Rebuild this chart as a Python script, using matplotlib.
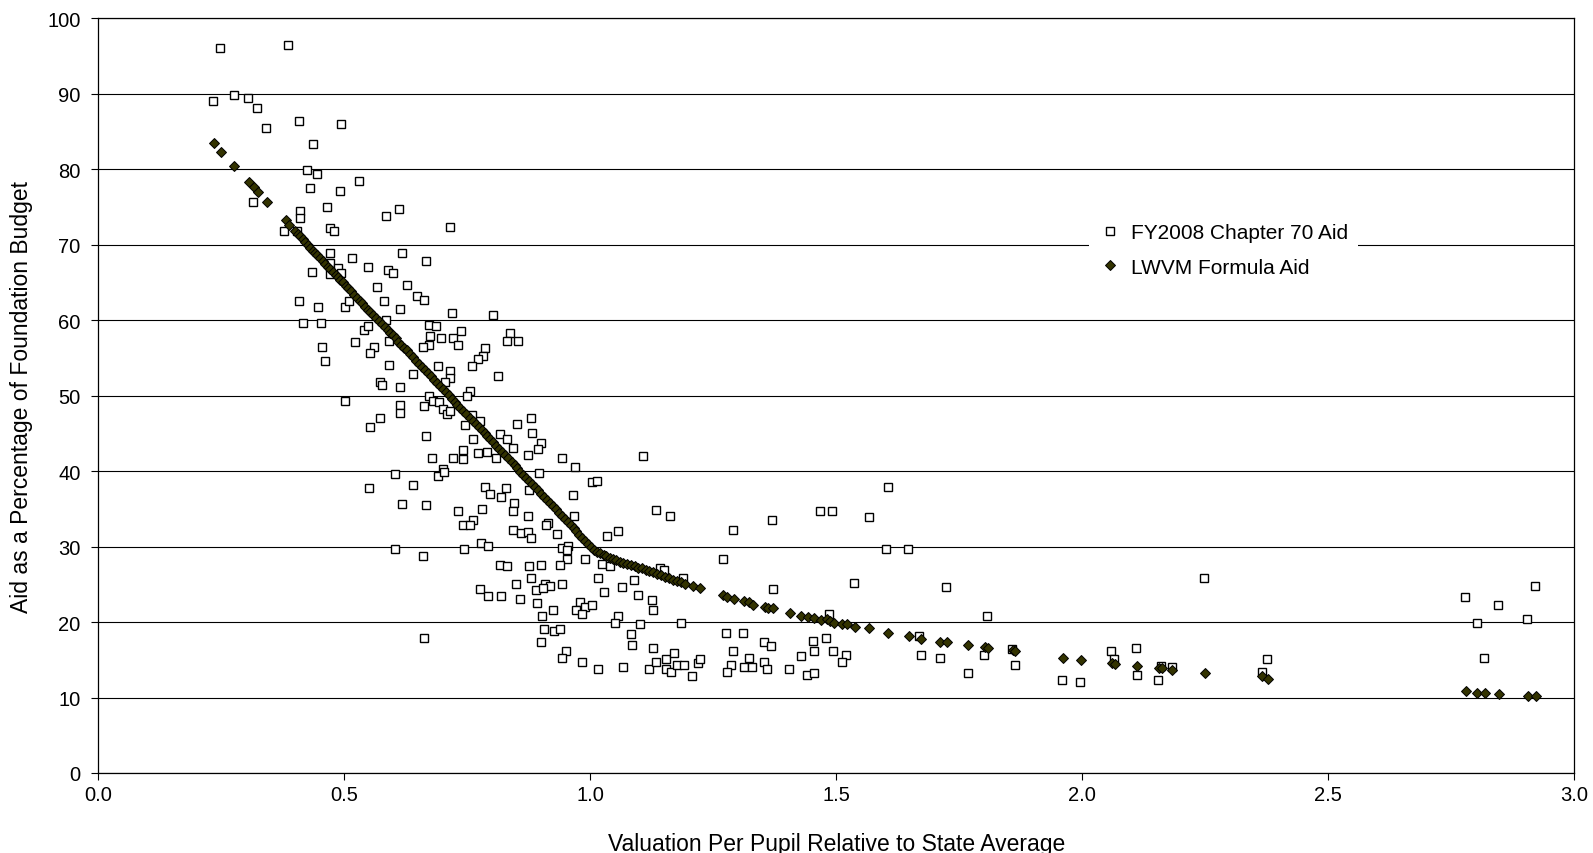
import matplotlib
matplotlib.use('Agg')
from matplotlib import pyplot as plt

plt.rcParams['font.family'] = ['Liberation Sans', 'DejaVu Sans']

# FY2008 Chapter 70 aid (open squares)
ch70_x = [0.248, 0.386, 0.233, 0.276, 0.305, 0.323, 0.341, 0.407, 0.494, 0.437, 0.425, 0.444, 0.530, 0.431,
          0.491, 0.314, 0.465, 0.410, 0.410, 0.377, 0.404, 0.470, 0.479,
          0.585, 0.611, 0.715,
          0.471, 0.515, 0.471, 0.434, 0.488, 0.494, 0.471, 0.408, 0.446, 0.501, 0.509, 0.416, 0.452, 0.540,
          0.522, 0.455, 0.461, 0.501,
          0.618, 0.665, 0.549, 0.588, 0.599, 0.567, 0.627, 0.648, 0.662, 0.581, 0.614, 0.719, 0.803, 0.585,
          0.549, 0.672, 0.686, 0.738, 0.837, 0.831, 0.854, 0.675, 0.696, 0.720, 0.591, 0.672, 0.659, 0.732,
          0.561, 0.552, 0.786, 0.782, 0.771, 0.759, 0.591, 0.690, 0.714, 0.639, 0.714, 0.813, 0.572, 0.576,
          0.614, 0.705, 0.755, 0.750, 0.672, 0.662, 0.681, 0.692, 0.614, 0.614, 0.700, 0.708, 0.715, 0.572,
          0.552, 0.745, 0.759, 0.776, 0.852, 0.879, 0.882, 0.816, 0.830, 0.842, 0.761, 0.666, 0.741, 0.721,
          0.741, 0.771, 0.791, 0.808, 0.873, 0.678, 0.701,
          0.900, 0.894, 0.942, 0.969, 1.107,
          0.602, 0.690, 0.702, 0.551, 0.639, 0.786, 0.797, 0.819, 0.828, 0.876, 0.618, 0.665, 0.732, 0.780,
          0.845, 0.843, 0.873, 0.761, 0.741, 0.756, 0.843, 0.860, 0.873, 0.879, 0.602, 0.743, 0.777, 0.792,
          0.659, 0.816, 0.831, 0.876, 0.879, 0.848, 0.776, 0.792, 0.819, 0.858, 0.890, 0.892, 0.662,
          0.896, 1.004, 1.014, 0.965, 0.967, 1.134, 1.163, 0.915, 0.911, 0.933, 1.035, 1.056, 0.942, 0.955,
          0.953, 0.952, 0.990, 0.900, 0.938, 1.023, 1.041, 1.142, 1.150, 1.188, 1.016, 1.089, 0.942, 0.908,
          0.918, 0.904, 1.065, 1.028, 1.098, 1.125, 1.127, 0.980, 0.989, 1.004, 0.971, 0.984, 0.925, 0.902,
          1.056, 1.050, 1.101, 1.184, 1.083, 1.085, 1.127, 0.906, 0.927, 0.938, 0.900, 0.951, 0.942, 0.984,
          1.016, 1.067, 1.119, 1.134, 1.155, 1.170, 1.154, 1.165, 1.177, 1.191, 1.206, 1.219, 1.224,
          1.291, 1.369, 1.467, 1.491, 1.566, 1.605, 1.269, 1.602, 1.647, 1.371, 1.536, 1.723, 1.806, 1.485,
          1.275, 1.311, 1.291, 1.353, 1.368, 1.323, 1.287, 1.279, 1.313, 1.329, 1.353, 1.359, 1.405, 1.428,
          1.452, 1.455, 1.440, 1.455, 1.479, 1.494, 1.521, 1.512, 1.668, 1.672, 1.711, 1.768, 1.801,
          1.857, 1.864, 2.248, 1.960, 1.996, 2.059, 2.065, 2.109, 2.112, 2.155, 2.160, 2.182, 2.377, 2.365,
          2.779, 2.803, 2.845, 2.921, 2.905, 2.818]
ch70_y = [96.1, 96.5, 89.1, 89.8, 89.4, 88.1, 85.5, 86.4, 86.0, 83.3, 79.9, 79.4, 78.4, 77.5,
          77.1, 75.6, 75.0, 74.4, 73.6, 71.8, 71.8, 72.2, 71.8,
          73.8, 74.7, 72.3,
          68.9, 68.3, 67.6, 66.4, 66.9, 66.3, 66.1, 62.5, 61.8, 61.8, 62.6, 59.6, 59.6, 58.7,
          57.1, 56.4, 54.6, 49.3,
          68.9, 67.9, 67.0, 66.6, 66.3, 64.4, 64.6, 63.2, 62.7, 62.6, 61.5, 60.9, 60.7, 60.0,
          59.2, 59.4, 59.2, 58.6, 58.3, 57.3, 57.3, 57.9, 57.7, 57.7, 57.2, 56.7, 56.5, 56.7,
          56.5, 55.6, 56.3, 55.2, 54.9, 53.9, 54.1, 53.9, 53.2, 52.9, 52.4, 52.6, 51.8, 51.4,
          51.2, 51.8, 50.6, 50.0, 50.0, 48.6, 49.3, 49.1, 48.7, 47.7, 48.2, 47.6, 47.9, 47.0,
          45.9, 46.1, 47.5, 46.6, 46.3, 47.0, 45.1, 44.9, 44.2, 43.1, 44.2, 44.6, 42.8, 41.8,
          41.6, 42.4, 42.5, 41.8, 42.1, 41.8, 40.3,
          43.7, 42.9, 41.7, 40.6, 42.0,
          39.6, 39.4, 39.9, 37.7, 38.1, 37.9, 37.0, 36.6, 37.7, 37.5, 35.6, 35.5, 34.7, 35.0,
          35.8, 34.7, 34.1, 33.5, 32.9, 32.9, 32.2, 31.8, 31.9, 31.2, 29.7, 29.7, 30.5, 30.1,
          28.8, 27.6, 27.4, 27.4, 25.9, 25.1, 24.4, 23.5, 23.5, 23.1, 24.2, 22.5, 17.9,
          39.8, 38.5, 38.7, 36.8, 34.1, 34.9, 34.1, 33.1, 32.9, 31.7, 31.4, 32.0, 29.8, 30.1,
          29.5, 28.3, 28.4, 27.6, 27.6, 27.7, 27.4, 27.2, 26.9, 25.9, 25.9, 25.6, 25.1, 25.1,
          24.8, 24.5, 24.6, 24.0, 23.6, 22.9, 21.6, 22.7, 22.0, 22.2, 21.6, 21.0, 21.6, 20.8,
          20.8, 19.9, 19.7, 19.9, 18.4, 16.9, 16.6, 19.1, 18.8, 19.1, 17.4, 16.2, 15.3, 14.7,
          13.8, 14.1, 13.8, 14.7, 15.1, 15.9, 13.8, 13.4, 14.3, 14.3, 12.9, 14.6, 15.1,
          32.2, 33.5, 34.7, 34.7, 33.9, 37.9, 28.4, 29.7, 29.7, 24.4, 25.2, 24.6, 20.8, 21.0,
          18.5, 18.5, 16.2, 17.4, 16.8, 15.3, 14.3, 13.4, 14.0, 14.0, 14.7, 13.8, 13.8, 15.5,
          17.5, 16.2, 13.0, 13.3, 17.9, 16.2, 15.6, 14.7, 18.2, 15.6, 15.3, 13.2, 15.6,
          16.4, 14.3, 25.9, 12.3, 12.1, 16.1, 15.1, 16.6, 13.0, 12.3, 14.2, 14.0, 15.1, 13.4,
          23.3, 19.9, 22.3, 24.8, 20.4, 15.3]

# LWVM formula aid (filled diamonds)
lwvm_x = [0.235, 0.250, 0.276, 0.306, 0.316, 0.324, 0.342, 0.381, 0.388,
          0.400, 0.405, 0.410, 0.415, 0.420, 0.426, 0.431, 0.436, 0.440, 0.445, 0.450, 0.456, 0.461, 0.466,
          0.470, 0.476, 0.482, 0.487, 0.492, 0.497, 0.503, 0.508, 0.514, 0.520, 0.525, 0.531, 0.536, 0.542,
          0.548, 0.553, 0.559, 0.565, 0.570, 0.576, 0.582, 0.588, 0.593, 0.598, 0.604, 0.610, 0.616, 0.622,
          0.627, 0.633, 0.640, 0.646, 0.652, 0.658, 0.664, 0.670, 0.676, 0.682, 0.688, 0.694, 0.700, 0.706,
          0.712, 0.718, 0.724, 0.730, 0.736, 0.742, 0.748, 0.755, 0.761, 0.767, 0.773, 0.779, 0.785, 0.791,
          0.797, 0.803, 0.809, 0.815, 0.821, 0.827, 0.833, 0.840, 0.846, 0.852, 0.858, 0.864, 0.870, 0.876,
          0.882, 0.888, 0.894, 0.900, 0.906, 0.912, 0.918, 0.924, 0.930, 0.936, 0.942, 0.948, 0.954, 0.960,
          0.966, 0.972, 0.978, 0.984, 0.990, 0.996, 1.002,
          1.008, 1.014, 1.020, 1.027, 1.033, 1.040, 1.046, 1.053, 1.060, 1.067, 1.075, 1.083, 1.090, 1.098,
          1.105, 1.113, 1.120, 1.128, 1.136, 1.144, 1.152, 1.160, 1.168, 1.176, 1.184, 1.193, 1.208, 1.224,
          1.270, 1.279, 1.292, 1.313, 1.323, 1.331, 1.355, 1.362, 1.372, 1.406, 1.428, 1.442, 1.455, 1.469,
          1.481, 1.487, 1.496, 1.512, 1.523, 1.538, 1.567, 1.605, 1.649, 1.672, 1.711, 1.725, 1.769, 1.803,
          1.809,
          1.859, 1.864, 1.961, 1.997, 2.060, 2.067, 2.112, 2.157, 2.163, 2.183, 2.249, 2.366, 2.378,
          2.781, 2.804, 2.820, 2.847, 2.907, 2.923]
lwvm_y = [83.5, 82.3, 80.4, 78.3, 77.7, 77.0, 75.7, 73.3, 72.6,
          71.8, 71.4, 71.1, 70.7, 70.4, 69.9, 69.5, 69.2, 68.9, 68.6, 68.2, 67.8, 67.5, 67.1,
          66.8, 66.4, 66.0, 65.7, 65.3, 65.0, 64.5, 64.2, 63.8, 63.4, 63.0, 62.6, 62.3, 61.8,
          61.4, 61.1, 60.7, 60.3, 59.9, 59.5, 59.1, 58.7, 58.3, 58.0, 57.6, 57.1, 56.7, 56.3,
          56.0, 55.5, 55.1, 54.6, 54.2, 53.8, 53.4, 53.0, 52.6, 52.1, 51.7, 51.3, 50.9, 50.5,
          50.1, 49.6, 49.2, 48.8, 48.4, 48.0, 47.6, 47.1, 46.7, 46.3, 45.8, 45.4, 45.0, 44.6,
          44.2, 43.8, 43.3, 42.9, 42.5, 42.1, 41.7, 41.2, 40.8, 40.4, 39.9, 39.5, 39.1, 38.7,
          38.3, 37.9, 37.5, 37.0, 36.6, 36.2, 35.8, 35.4, 35.0, 34.5, 34.1, 33.7, 33.3, 32.9,
          32.5, 32.0, 31.6, 31.2, 30.8, 30.4, 30.0,
          29.6, 29.3, 29.1, 28.9, 28.7, 28.5, 28.3, 28.2, 28.0, 27.8, 27.7, 27.5, 27.4, 27.2,
          27.1, 26.9, 26.8, 26.6, 26.4, 26.2, 26.0, 25.8, 25.6, 25.4, 25.3, 25.0, 24.8, 24.5,
          23.6, 23.3, 23.1, 22.8, 22.6, 22.3, 22.0, 21.9, 21.8, 21.2, 20.8, 20.7, 20.5, 20.3,
          20.4, 20.2, 19.9, 19.7, 19.7, 19.4, 19.2, 18.6, 18.2, 17.8, 17.4, 17.4, 16.9, 16.7,
          16.5,
          16.3, 16.1, 15.2, 15.0, 14.6, 14.4, 14.2, 13.9, 13.9, 13.6, 13.3, 12.8, 12.5,
          10.8, 10.6, 10.6, 10.4, 10.2, 10.2]

fig = plt.figure(figsize=(15.93, 8.54), dpi=100)
ax = fig.add_axes([0.0618, 0.0937, 0.9262, 0.8837])

ax.plot(ch70_x, ch70_y, linestyle='none', marker='s', markersize=5.4,
        markerfacecolor='white', markeredgecolor='black', markeredgewidth=1.0,
        label='FY2008 Chapter 70 Aid', zorder=3)
ax.plot(lwvm_x, lwvm_y, linestyle='none', marker='D', markersize=5.0,
        markerfacecolor='#333300', markeredgecolor='black', markeredgewidth=0.7,
        label='LWVM Formula Aid', zorder=4)

ax.set_xlim(0, 3.0)
ax.set_ylim(0, 100)
ax.set_xticks([0.0, 0.5, 1.0, 1.5, 2.0, 2.5, 3.0])
ax.set_xticklabels(['0.0', '0.5', '1.0', '1.5', '2.0', '2.5', '3.0'])
ax.set_yticks(range(0, 101, 10))
ax.yaxis.grid(True, color='black', linewidth=0.8)
ax.set_axisbelow(True)
ax.tick_params(direction='out', length=5, width=0.8, labelsize=14.5, colors='black')
ax.tick_params(axis='y', pad=8)
for s in ax.spines.values():
    s.set_linewidth(0.9)

ax.set_xlabel('Valuation Per Pupil Relative to State Average', fontsize=16.5, labelpad=20)
ax.set_ylabel('Aid as a Percentage of Foundation Budget', fontsize=16.5, labelpad=10)

leg = ax.legend(loc='upper left', bbox_to_anchor=(0.677, 0.762), bbox_transform=fig.transFigure,
                frameon=True, fancybox=False, edgecolor='none', facecolor='white', framealpha=1,
                fontsize=15, handletextpad=0.5, handlelength=1.0, borderpad=0.5, labelspacing=0.75)

fig.savefig('out.png', dpi=100)
